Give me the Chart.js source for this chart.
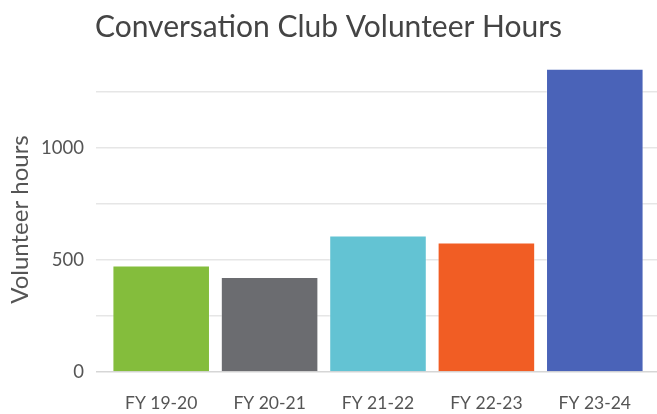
<!DOCTYPE html>
<html>
<head>
<meta charset="utf-8">
<script src="https://cdn.jsdelivr.net/npm/chart.js"></script>
<style>
  html, body { margin: 0; padding: 0; background: #fff; }
  #wrap { width: 657px; height: 414px; }
</style>
</head>
<body>
<div id="wrap"><canvas id="chart" width="657" height="414"></canvas></div>
<script>
'use strict'

const years = ['FY 19-20', 'FY 20-21', 'FY 21-22', 'FY 22-23', 'FY 23-24']
const hours = [475, 424, 609, 578, 1352]
const barColors = ['#84bd3c', '#6b6c70', '#63c3d3', '#f15d24', '#4a63b8']

const textColor = '#555'
const gridColor = ctx => ctx.tick && ctx.tick.value === 0 ? '#d6d6d6' : '#e6e6e6'

new Chart(document.getElementById('chart').getContext('2d'), {
  type: 'bar',

  data: {
    labels: years,
    datasets: [{
      data: hours,
      backgroundColor: barColors,
      borderColor: 'rgba(255,255,255,0.35)',
      borderWidth: 1,
      categoryPercentage: 0.9,
      barPercentage: 1
    }]
  },

  options: {
    responsive: false,
    animation: false,
    layout: { padding: 0 },

    plugins: {
      legend: { display: false },
      tooltip: { enabled: false },
      title: {
        display: true,
        text: 'Conversation Club Volunteer Hours',
        color: '#444',
        font: { family: 'Lato', size: 30, weight: 'normal' },
        padding: { top: 9, bottom: 22 }
      }
    },

    scales: {
      x: {
        grid: { display: false },
        border: { display: false },
        ticks: {
          color: textColor,
          font: { family: 'Lato', size: 17.5 },
          padding: 13
        },
        afterFit: scale => { scale.height = 42 }
      },

      y: {
        min: 0,
        max: 1360,
        border: { display: false },
        grid: {
          color: gridColor,
          lineWidth: 1.5,
          drawTicks: true,
          tickLength: 11
        },
        ticks: {
          stepSize: 250,
          includeBounds: false,
          color: textColor,
          font: { family: 'Lato', size: 18.5 },
          padding: 12,
          callback: v => v % 500 === 0 ? v : ''
        },
        title: {
          display: true,
          text: 'Volunteer hours',
          color: textColor,
          font: { family: 'Lato', size: 24 },
          padding: { top: 6, bottom: 4 }
        },
        afterFit: scale => { scale.width = 107 }
      },

      // right-hand axis only used to run the grid out to the edge
      y2: {
        position: 'right',
        min: 0,
        max: 1360,
        border: { display: false },
        grid: {
          drawOnChartArea: false,
          color: gridColor,
          lineWidth: 1.5,
          tickLength: 8
        },
        ticks: { stepSize: 250, includeBounds: false, display: false },
        afterFit: scale => { scale.width = 8 }
      }
    }
  }
})
</script>
</body>
</html>
